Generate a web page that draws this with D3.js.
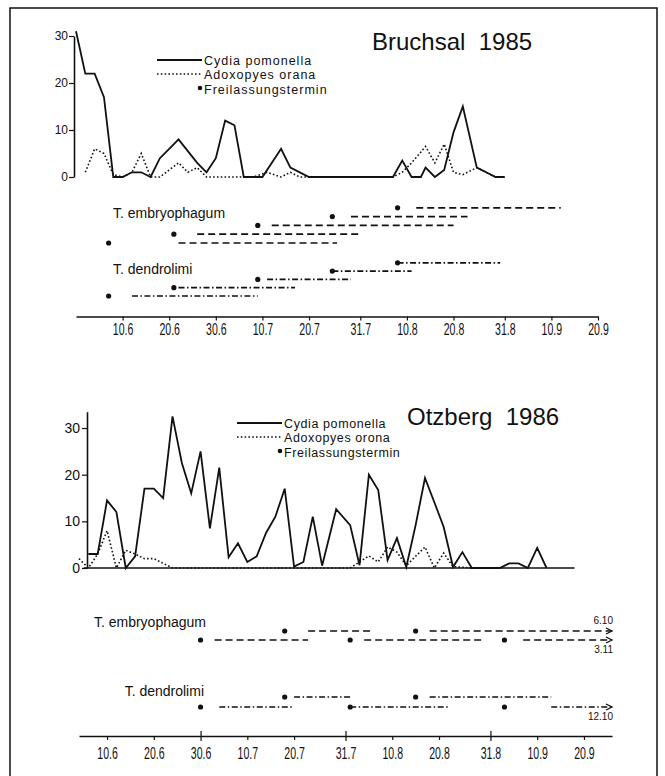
<!DOCTYPE html>
<html>
<head>
<meta charset="utf-8">
<script src="https://cdn.jsdelivr.net/npm/d3@7"></script>
<style>
    body { margin: 0; background: #fff; }
    svg { display: block; font-family: "Liberation Sans", Arial, sans-serif; }
</style>
</head>
<body>
<svg id="chart" width="665" height="776"></svg>
<script>
// Bruchsal 1985
const bruchsal_cydia_dates = ["31.5","2.6","4.6","6.6","8.6","10.6","12.6","14.6","16.6","18.6","20.6",
    "22.6","24.6","26.6","28.6","30.6","2.7","4.7","6.7","10.7","14.7","16.7","20.7",
    "7.8","9.8","11.8","13.8","14.8","16.8","18.8","20.8","22.8","25.8","27.8","29.8","31.8"];
const bruchsal_cydia = [31,22,22,17,0,0,1,1,0,4,6,8,5.5,3,1,4,12,11,0,0,6,2,0,
    0,3.5,0,0,2,0,1.5,9.5,15,2,1,0,0];
const bruchsal_adox_dates = ["2.6","4.6","6.6","8.6","10.6","12.6","14.6","16.6","18.6","22.6","24.6","26.6","28.6",
    "8.7","11.7","14.7","16.7","18.7","7.8","9.8","11.8","14.8","16.8","18.8","19.8","20.8","22.8","25.8","27.8","29.8"];
const bruchsal_adox = [1,6,5,0.5,0,1,5,0,0,3,1,2,0,0,1,0,1,0,0,1,3,6.5,3,7,4,1,0.5,2,1,0];
const bruchsal_releases = ["7.6","21.6","9.7","25.7","8.8"];
const bruchsal_embryophagum = [["22.6","26.7"],["26.6","31.7"],["12.7","20.8"],["29.7","23.8"],["12.8","12.9"]];
const bruchsal_dendrolimi = [["12.6","9.7"],["22.6","17.7"],["11.7","29.7"],["25.7","11.8"],["8.8","30.8"]];

// Otzberg 1986
const otzberg_cydia_dates = ["6.6","8.6","10.6","12.6","14.6","16.6","18.6","20.6","22.6","24.6","26.6","28.6","30.6",
    "2.7","4.7","6.7","8.7","10.7","12.7","14.7","16.7","18.7","20.7","22.7","24.7","26.7","29.7",
    "1.8","3.8","5.8","7.8","9.8","11.8","13.8","15.8","17.8","19.8","21.8","23.8","25.8","27.8",
    "2.9","4.9","6.9","8.9","10.9","12.9"];
const otzberg_cydia = [3,3,14.5,12,0,2.5,17,17,15,32.5,22.5,16,25,
    8.5,21.5,2.3,5.3,1.3,2.5,7.5,11,17,0.3,1.3,11,0.5,12.6,
    9.2,0.6,20,16.7,1.7,6.4,0.2,9.2,19.3,14.1,8.8,0.2,3.4,0,
    0,1,1,0,4.3,0];
const otzberg_adox_dates = ["4.6","6.6","8.6","10.6","12.6","14.6","16.6","18.6","20.6","22.6","24.6",
    "1.8","5.8","7.8","9.8","11.8","13.8","17.8","19.8","21.8","23.8","27.8"];
const otzberg_adox = [2,0,3,8,0,3.8,3,2,2,1,0,0,2.6,1.3,4.5,3.4,0.5,4.5,0,3.2,0.3,0];
const otzberg_releases = ["30.6","18.7","1.8","15.8","3.9"];
const otzberg_release_rows = [0,1,0,1,0];
const otzberg_embryophagum = [["3.7","23.7"],["23.7","6.8"],["4.8","29.8"],["18.8","6.10"],["7.9","3.11"]];
const otzberg_dendrolimi = [["4.7","20.7"],["20.7","1.8"],["1.8","22.8"],["18.8","13.9"],["13.9","12.10"]];

const tick_labels = ["10.6","20.6","30.6","10.7","20.7","31.7","10.8","20.8","31.8","10.9","20.9"];
const major_ticks_1986 = ["30.6","31.7","31.8"];
const y_ticks = [0,10,20,30];
const legend_1985 = ["Cydia pomonella","Adoxopyes orana","Freilassungstermin"];
const legend_1986 = ["Cydia pomonella","Adoxopyes orona","Freilassungstermin"];

const INK = "#111";
const DASHED = "7,4";
const DASH_DOT = "6,2.5,1.5,2.5";
const DOTTED = "1.6,2.2";
const CONDENSE = "scale(0.66,1)";

const svg = d3.select("#chart");
const date_fmt = d3.utcFormat("%-d.%-m");
const parse_full = d3.utcParse("%d.%m.%Y");

function parse_date(s, year) {
    return parse_full(s + "." + year);
}

svg.append("rect")
    .attr("x", 10).attr("y", 8)
    .attr("width", 647).attr("height", 800)
    .attr("fill", "none").attr("stroke", INK).attr("stroke-width", 1.5);

function style_axis(g, label_size, condensed) {
    g.attr("font-family", null).attr("font-size", null);
    g.select(".domain").attr("stroke", INK).attr("stroke-width", 1.6);
    g.selectAll(".tick line").attr("stroke", INK).attr("stroke-width", 1.2);
    g.selectAll(".tick text").attr("fill", INK).attr("font-size", label_size);
    if (condensed)
        g.selectAll(".tick text").attr("transform", CONDENSE);
}

function draw_series(g, x, y, dates, values, year, dash) {
    let rows = dates.map((d, i) => ({date: parse_date(d, year), value: values[i]}));
    g.append("path")
        .datum(rows)
        .attr("fill", "none")
        .attr("stroke", INK)
        .attr("stroke-width", dash ? 1.6 : 1.8)
        .attr("stroke-dasharray", dash)
        .attr("stroke-linejoin", "miter")
        .attr("d", d3.line().x(d => x(d.date)).y(d => y(d.value)));
}

function draw_legend(g, labels, x0, baselines, spacing) {
    let styles = [null, DOTTED, "dot"];
    labels.forEach((label, i) => {
        let yy = baselines[i];
        if (styles[i] == "dot") {
            g.append("circle").attr("cx", x0 + 43).attr("cy", yy - 6).attr("r", 2.3).attr("fill", INK);
        } else {
            g.append("line")
                .attr("x1", x0).attr("x2", x0 + 45)
                .attr("y1", yy - 5).attr("y2", yy - 5)
                .attr("stroke", INK).attr("stroke-width", styles[i] ? 1.6 : 1.8)
                .attr("stroke-dasharray", styles[i]);
        }
        g.append("text")
            .attr("x", x0 + 47).attr("y", yy)
            .attr("font-size", 12.5)
            .attr("letter-spacing", spacing)
            .attr("fill", INK)
            .text(label);
    });
}

// one dot per release date, one line per period; periods past the axis end get an arrow
function draw_releases(g, x, year, releases, periods, row_y, dash, clip) {
    let x_clip = clip ? x(parse_date(clip, year)) : Infinity;
    releases.forEach((r, i) => {
        let yy = row_y(i);
        g.append("circle")
            .attr("cx", x(parse_date(r, year))).attr("cy", yy)
            .attr("r", 2.6).attr("fill", INK);
        let x1 = x(parse_date(periods[i][0], year));
        let x2 = x(parse_date(periods[i][1], year));
        let cut = x2 > x_clip;
        g.append("line")
            .attr("x1", x1).attr("x2", cut ? x_clip : x2)
            .attr("y1", yy).attr("y2", yy)
            .attr("stroke", INK).attr("stroke-width", 1.7)
            .attr("stroke-dasharray", dash);
        if (cut) {
            g.append("path")
                .attr("d", `M${x_clip - 6},${yy - 3}L${x_clip},${yy}L${x_clip - 6},${yy + 3}`)
                .attr("fill", "none").attr("stroke", INK).attr("stroke-width", 1.3);
            let above = otzberg_release_rows[i] == 1;
            g.append("text")
                .attr("x", x_clip + 1).attr("y", above ? yy - 7 : yy + 13)
                .attr("text-anchor", "end")
                .attr("font-size", 10)
                .attr("fill", INK)
                .text(periods[i][1]);
        }
    });
}

function add_label(g, text, x, y, anchor) {
    g.append("text")
        .attr("x", x).attr("y", y)
        .attr("text-anchor", anchor || "start")
        .attr("font-size", 14)
        .attr("fill", INK)
        .text(text);
}

// ---------- Bruchsal 1985 ----------
{
    const year = 1985;
    const g = svg.append("g");
    const x = d3.scaleUtc()
        .domain([parse_date("31.5", year), parse_date("20.9", year)])
        .range([76, 598]);
    const y = d3.scaleLinear().domain([0, 30]).range([177, 36]);

    g.append("text")
        .attr("x", 372).attr("y", 50)
        .attr("font-size", 24)
        .attr("fill", INK)
        .style("white-space", "pre")
        .text("Bruchsal  1985");

    let ya = g.append("g")
        .attr("transform", "translate(74,0)")
        .call(d3.axisLeft(y).tickValues(y_ticks).tickSize(5).tickSizeOuter(0).tickPadding(1));
    style_axis(ya, 12);

    draw_series(g, x, y, bruchsal_adox_dates, bruchsal_adox, year, DOTTED);
    draw_series(g, x, y, bruchsal_cydia_dates, bruchsal_cydia, year, null);
    draw_legend(g, legend_1985, 157, [65, 79, 94], 1);

    add_label(g, "T. embryophagum", 113, 218);
    draw_releases(g, x, year, bruchsal_releases, bruchsal_embryophagum, i => 243 - i * 8.8, DASHED);
    add_label(g, "T. dendrolimi", 113, 274);
    draw_releases(g, x, year, bruchsal_releases, bruchsal_dendrolimi, i => 296 - i * 8.3, DASH_DOT);

    let xa = g.append("g")
        .attr("transform", "translate(0,316.5)")
        .call(d3.axisBottom(x)
            .tickValues(tick_labels.map(s => parse_date(s, year)))
            .tickFormat(date_fmt)
            .tickSize(4).tickSizeOuter(0).tickPadding(3));
    style_axis(xa, 16, true);
}

// ---------- Otzberg 1986 ----------
{
    const year = 1986;
    const g = svg.append("g");
    const x = d3.scaleUtc()
        .domain([parse_date("4.6", year), parse_date("26.9", year)])
        .range([79, 612]);
    const y = d3.scaleLinear().domain([0, 33.5]).range([568, 411.7]);

    g.append("text")
        .attr("x", 407).attr("y", 425)
        .attr("font-size", 24)
        .attr("fill", INK)
        .style("white-space", "pre")
        .text("Otzberg  1986");

    // zero line
    g.append("line")
        .attr("x1", x(parse_date("5.6", year))).attr("x2", x(parse_date("18.9", year)))
        .attr("y1", y(0)).attr("y2", y(0))
        .attr("stroke", INK).attr("stroke-width", 1.6);

    let ya = g.append("g")
        .attr("transform", "translate(87,0)")
        .call(d3.axisLeft(y).tickValues(y_ticks).tickSize(5).tickSizeOuter(0).tickPadding(2));
    style_axis(ya, 14);

    draw_series(g, x, y, otzberg_adox_dates, otzberg_adox, year, DOTTED);
    draw_series(g, x, y, otzberg_cydia_dates, otzberg_cydia, year, null);
    draw_legend(g, legend_1986, 237, [428, 442, 457], 0.6);

    const clip = "26.9";
    add_label(g, "T. embryophagum", 206, 627, "end");
    draw_releases(g, x, year, otzberg_releases, otzberg_embryophagum,
        i => otzberg_release_rows[i] ? 631 : 640, DASHED, clip);
    add_label(g, "T. dendrolimi", 204, 696, "end");
    draw_releases(g, x, year, otzberg_releases, otzberg_dendrolimi,
        i => otzberg_release_rows[i] ? 697 : 707, DASH_DOT, clip);

    let xa = g.append("g")
        .attr("transform", "translate(0,736)")
        .call(d3.axisBottom(x)
            .tickValues(tick_labels.map(s => parse_date(s, year)))
            .tickFormat(date_fmt)
            .tickSize(4).tickSizeOuter(0).tickPadding(8));
    style_axis(xa, 16, true);
    xa.selectAll(".tick")
        .filter(d => major_ticks_1986.includes(date_fmt(d)))
        .select("line")
        .attr("y1", -5).attr("y2", 5);
}
</script>
</body>
</html>
